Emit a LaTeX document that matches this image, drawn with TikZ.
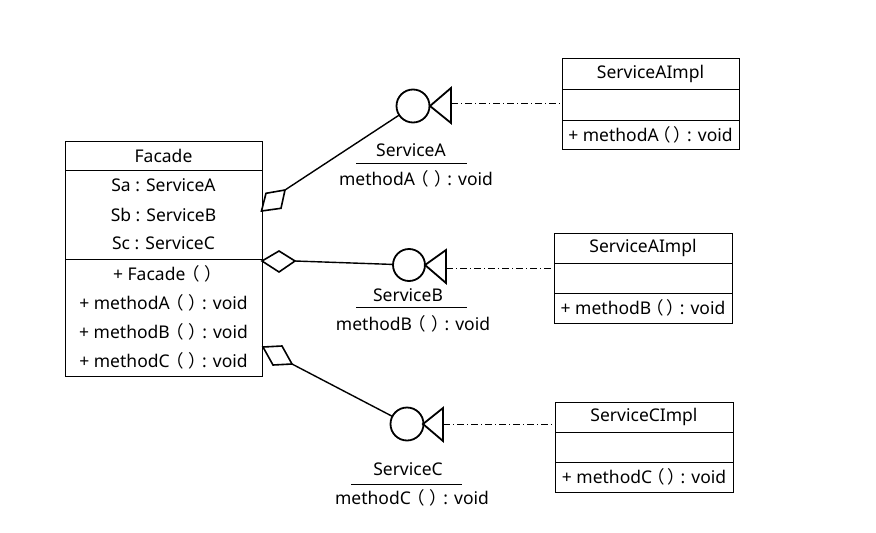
\documentclass[tikz,border=0pt]{standalone}
\usepackage{fontspec}
\setmainfont{Noto Sans}
\newfontfamily\cjk[RawFeature=+palt]{Noto Sans CJK SC}
\newcommand{\pp}{\kern5pt{\cjk （}\kern6pt{\cjk ）}\kern4pt}
\newcommand{\ppi}{\kern3pt{\cjk （}\kern4pt{\cjk ）}\kern4pt}
\begin{document}
\begin{tikzpicture}[x=1pt,y=-1pt,
  every node/.style={inner sep=0pt, outer sep=0pt, font=\fontsize{17.5}{20}\selectfont},
  box/.style={draw, line width=1pt, fill=none},
  sep/.style={line width=1pt},
  conn/.style={line width=1.4pt},
  agg/.style={draw, line width=1.6pt, fill=white, line join=miter},
  iface/.style={draw, line width=1.8pt, circle, minimum size=33pt},
  sock/.style={draw, line width=1.8pt, line join=miter},
  real/.style={line width=1pt, dash pattern=on 7pt off 3pt on 1pt off 3pt},
  txt/.style={anchor=center}]
\useasboundingbox (0,0) rectangle (876,533);

% Facade class
\node[box, minimum width=197pt, minimum height=235pt] (facade) at (163.5,258.5) {};
\draw[sep] (65,170) -- (262,170);
\draw[sep] (65,259.5) -- (262,259.5);
\node[txt] (fT) at (163.5,156) {Facade};
\node[txt] (fa) at (163.5,185.5) {Sa : ServiceA};
\node[txt] (fb) at (163.5,214.5) {Sb : ServiceB};
\node[txt] (fc) at (163.5,243.5) {Sc : ServiceC};
\node[txt] (f0) at (163.5,274) {+ Facade\kern5pt{\cjk （}\kern6pt{\cjk ）}};
\node[txt] (f1) at (163.5,303) {+ methodA\pp: void};
\node[txt] (f2) at (163.5,332) {+ methodB\pp: void};
\node[txt] (f3) at (163.5,361) {+ methodC\pp: void};

% Impl classes
\node[box, minimum width=177pt, minimum height=91pt] (aimpl) at (650.5,103.5) {};
\draw[sep] (562,89) -- (739,89);
\draw[sep] (562,120) -- (739,120);
\node[txt] (aT) at (650.5,73.5) {ServiceAImpl};
\node[txt] (aM) at (650.5,134.5) {+ methodA\ppi: void};

\node[box, minimum width=178pt, minimum height=90pt] (bimpl) at (643,278) {};
\draw[sep] (554,263) -- (732,263);
\draw[sep] (554,293) -- (732,293);
\node[txt] (bT) at (643,248) {ServiceAImpl};
\node[txt] (bM) at (643,308) {+ methodB\ppi: void};

\node[box, minimum width=178pt, minimum height=90pt] (cimpl) at (644,447) {};
\draw[sep] (555,432) -- (733,432);
\draw[sep] (555,462) -- (733,462);
\node[txt] (cT) at (644,417) {ServiceCImpl};
\node[txt] (cM) at (644,477) {+ methodC\ppi: void};

% Interfaces
\node[iface] (ia) at (413,106) {};
\node[iface, minimum size=32pt] (ib) at (409,265) {};
\node[iface] (ic) at (407,424) {};

\draw[sock] (430,106) -- (451,88) -- (451,123) -- cycle;
\draw[sock] (425,265) -- (446,250) -- (446,283) -- cycle;
\draw[sock] (423,424) -- (443,408) -- (443,441) -- cycle;

\coordinate (ra) at (451,103);
\coordinate (rb) at (446,268);
\coordinate (rc) at (443,424);
\draw[real] (ra) -- (ra -| aimpl.west);
\draw[real] (rb) -- (rb -| bimpl.west);
\draw[real] (rc) -- (rc -| cimpl.west);

% Interface labels
\node[txt] (la) at (411,150) {ServiceA};
\draw[sep] (356,163.5) -- (467,163.5);
\node[txt] (ma) at (416,179) {methodA\pp: void};
\node[txt] (lb) at (408,295) {ServiceB};
\draw[sep] (356,307) -- (467,307);
\node[txt] (mb) at (413,324) {methodB\pp: void};
\node[txt] (lc) at (408,469) {ServiceC};
\draw[sep] (351,484.5) -- (462,484.5);
\node[txt] (mc) at (412,498) {methodC\pp: void};

% Aggregation diamonds
\coordinate (da) at (285,190);
\coordinate (db) at (295,261);
\coordinate (dc) at (292,364);
\draw[conn] (da) -- (ia);
\draw[conn] (db) -- (ib);
\draw[conn] (dc) -- (ic);
\draw[agg] (261.5,211) -- (266,193.3) -- (da) -- (281,208.3) -- cycle;
\draw[agg] (262,261) -- (279,251) -- (db) -- (279,272) -- cycle;
\draw[agg] (263,347) -- (282,346) -- (dc) -- (273,365) -- cycle;
\end{tikzpicture}
\end{document}
